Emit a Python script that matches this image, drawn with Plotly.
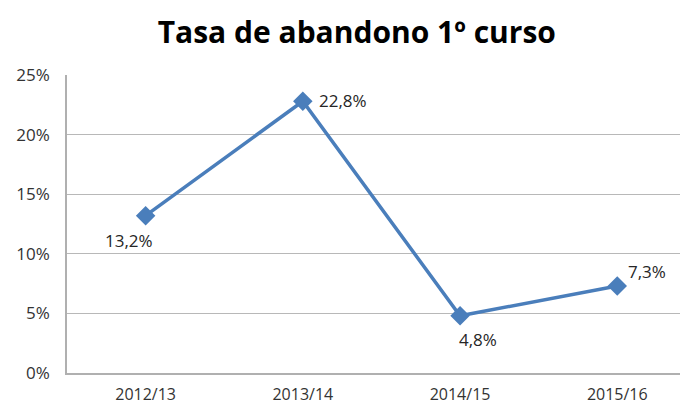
import plotly.graph_objects as go

categories = ["2012/13", "2013/14", "2014/15", "2015/16"]
values = [0.132, 0.228, 0.048, 0.073]
label_offsets = [(-17, -25), (40, 1), (18, -24), (30, 14)]
title_text = "Tasa de abandono 1º curso"

FONT = "Open Sans, Liberation Sans, sans-serif"

fig = go.Figure()
fig.add_trace(go.Scatter(
    x=categories, y=values,
    mode="lines+markers",
    line=dict(color="#4a7ebb", width=3.5),
    marker=dict(symbol="diamond", size=15, color="#4a7ebb"),
    cliponaxis=False,
    hoverinfo="skip",
))

for cat, val, (dx, dy) in zip(categories, values, label_offsets):
    fig.add_annotation(
        x=cat, y=val, text=f"{val*100:.1f}%".replace(".", ","),
        showarrow=False, xshift=dx, yshift=dy,
        font=dict(family=FONT, size=17, color="#262626"),
    )

fig.update_layout(
    width=688, height=406,
    margin=dict(l=56, r=8, t=67, b=41),
    paper_bgcolor="white", plot_bgcolor="white",
    separators=",.",
    showlegend=False,
    title=dict(text="<b>" + title_text + "</b>", x=0.507, xanchor="center", y=0.94, yanchor="middle",
               font=dict(family=FONT, size=30, color="black")),
    font=dict(family=FONT, size=14, color="#333333"),
)
fig.update_xaxes(
    type="category", range=[-0.5, 3.45],
    showgrid=False, showline=True, linecolor="#b0b0b0", linewidth=1.5,
    ticks="", tickfont=dict(size=16, color="#333333"), ticklabelstandoff=6,
)
fig.update_yaxes(
    range=[0, 0.25], dtick=0.05, tickformat=".0%",
    showgrid=True, gridcolor="#b8b8b8", gridwidth=1.2,
    showline=True, linecolor="#b0b0b0", linewidth=1.5,
    zeroline=False, ticks="", ticklabelstandoff=12,
    tickfont=dict(size=17, color="#333333"),
)

fig.write_html("out.html")
